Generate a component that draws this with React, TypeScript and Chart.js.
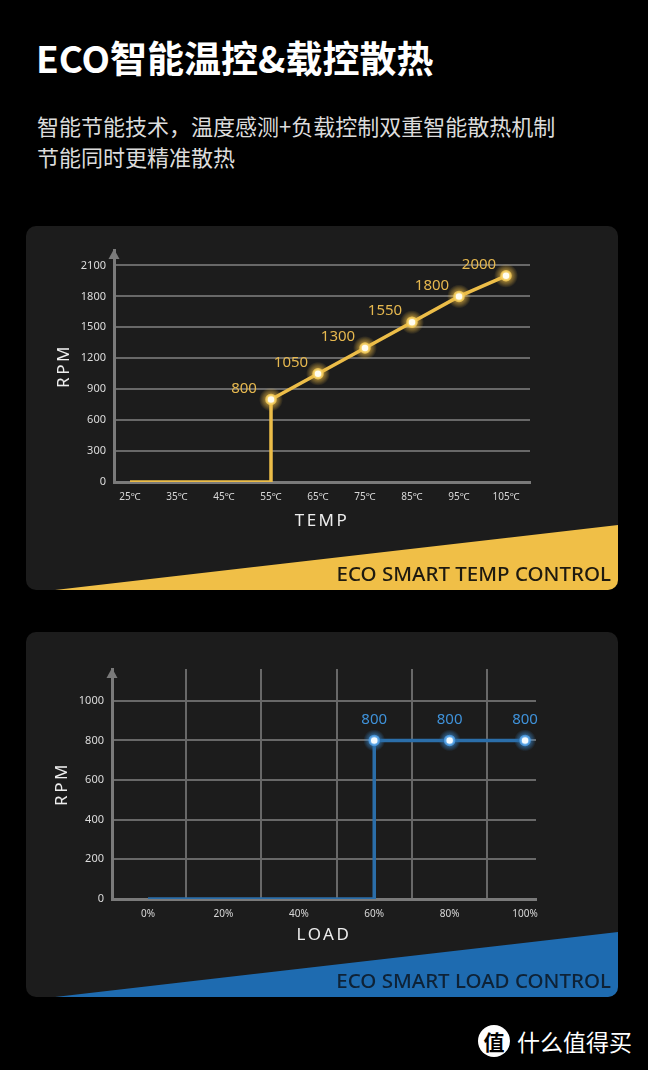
import React, { useEffect, useRef } from 'react';
import { Chart, registerables } from 'chart.js';
Chart.register(...registerables);

// ---- data ----
const tempTickValues = [25, 35, 45, 55, 65, 75, 85, 95, 105];
const tempX = [25, 55, 55, 65, 75, 85, 95, 105];
const tempRpm = [0, 0, 800, 1050, 1300, 1550, 1800, 2000];
const tempRpmTicks = [0, 300, 600, 900, 1200, 1500, 1800, 2100];

const loadTickValues = [0, 20, 40, 60, 80, 100];
const loadGridValues = [10, 30, 50, 70, 90];
const loadX = [0, 60, 60, 80, 100];
const loadRpm = [0, 0, 800, 800, 800];
const loadRpmTicks = [0, 200, 400, 600, 800, 1000];

const FONT = "'Noto Sans', 'Noto Sans CJK SC', sans-serif";
const CJK = "'Noto Sans CJK SC', 'Noto Sans', sans-serif";
const GRID = '#686868';
const AXIS = '#7a7a7a';

const marksPlugin = {
  id: 'marks',
  beforeDatasetsDraw(chart: any, _a: any, opts: any) {
    const ctx = chart.ctx;
    const ds = chart.data.datasets[0].data;
    chart.getDatasetMeta(0).data.forEach((pt: any, i: number) => {
      if (!(ds[i].y > 0)) return;
      const r = opts.glowRadius;
      const g = ctx.createRadialGradient(pt.x, pt.y, 0, pt.x, pt.y, r);
      g.addColorStop(0, `rgba(${opts.glow},0.9)`);
      g.addColorStop(0.5, `rgba(${opts.glow},0.5)`);
      g.addColorStop(1, `rgba(${opts.glow},0)`);
      ctx.save();
      ctx.fillStyle = g;
      ctx.beginPath();
      ctx.arc(pt.x, pt.y, r, 0, Math.PI * 2);
      ctx.fill();
      ctx.restore();
    });
  },
  afterDatasetsDraw(chart: any, _a: any, opts: any) {
    const ctx = chart.ctx;
    const ds = chart.data.datasets[0].data;
    ctx.save();
    ctx.font = `15px ${FONT}`;
    ctx.fillStyle = opts.labelColor;
    ctx.textAlign = 'center';
    ctx.textBaseline = 'middle';
    chart.getDatasetMeta(0).data.forEach((pt: any, i: number) => {
      if (!(ds[i].y > 0)) return;
      ctx.fillText(String(ds[i].y), pt.x + opts.dx, pt.y + opts.dy);
    });
    ctx.restore();
  },
};

const arrowPlugin = {
  id: 'yArrow',
  afterDraw(chart: any) {
    const ctx = chart.ctx;
    const x = chart.chartArea.left;
    const top = chart.chartArea.top - 1;
    ctx.save();
    ctx.fillStyle = AXIS;
    ctx.beginPath();
    ctx.moveTo(x, top);
    ctx.lineTo(x - 5.5, top + 10);
    ctx.lineTo(x + 5.5, top + 10);
    ctx.closePath();
    ctx.fill();
    ctx.restore();
  },
};

function spaceTitle(s: any) {
  if (s.__spaced) return;
  const orig = s.drawTitle.bind(s);
  s.drawTitle = () => {
    const c = s.ctx;
    c.save();
    c.letterSpacing = '2.5px';
    orig();
    c.restore();
  };
  s.__spaced = true;
}

function useChart(ref: any, build: () => any) {
  useEffect(() => {
    const chart = new Chart(ref.current, build());
    return () => chart.destroy();
  }, []);
}

function TempChart() {
  const ref = useRef<HTMLCanvasElement>(null);
  useChart(ref, () => ({
    type: 'line',
    data: {
      datasets: [
        {
          data: tempX.map((x, i) => ({ x, y: tempRpm[i] })),
          borderColor: '#ecbd48',
          borderWidth: 3.5,
          pointRadius: (c: any) => (c.raw && c.raw.y > 0 ? 4.5 : 0),
          pointBackgroundColor: '#fffdf0',
          pointBorderColor: 'rgba(245,205,90,0.85)',
          pointBorderWidth: 2.5,
          tension: 0,
        },
      ],
    },
    options: {
      animation: false,
      responsive: false,
      layout: { padding: { top: 24, right: 88, bottom: 0, left: 0 } },
      plugins: {
        legend: { display: false },
        tooltip: { enabled: false },
        marks: { glow: '255,200,70', glowRadius: 12, labelColor: '#e6b84f', dx: -27, dy: -11 },
      },
      scales: {
        x: {
          type: 'linear',
          min: 21.6,
          max: 110.1,
          afterBuildTicks: (s: any) => {
            s.ticks = tempTickValues.map((v) => ({ value: v }));
          },
          afterFit: (s: any) => {
            s.height = 108;
            spaceTitle(s);
          },
          grid: { display: false, drawTicks: false },
          border: { display: true, color: AXIS, width: 3 },
          ticks: {
            color: '#d8d8d8',
            font: { size: 10, family: FONT },
            padding: 9,
            autoSkip: false,
            maxRotation: 0,
            callback: (v: any) => v + '℃',
          },
          title: {
            display: true,
            text: 'TEMP',
            color: '#ededed',
            font: { size: 17, family: FONT },
            padding: { bottom: 59 },
          },
        },
        y: {
          min: 0,
          max: 2250,
          afterBuildTicks: (s: any) => {
            s.ticks = tempRpmTicks.map((v) => ({ value: v }));
          },
          afterFit: (s: any) => {
            s.width = 88;
            spaceTitle(s);
          },
          grid: { color: GRID, lineWidth: 2, drawTicks: false },
          border: { display: true, color: AXIS, width: 3 },
          ticks: {
            color: '#dcdcdc',
            font: { size: 11, family: FONT },
            padding: 8,
            callback: (v: any) => String(v),
          },
          title: {
            display: true,
            text: 'RPM',
            color: '#ededed',
            font: { size: 17, family: FONT },
            padding: { top: 28 },
          },
        },
      },
    },
    plugins: [marksPlugin, arrowPlugin],
  }));
  return <canvas ref={ref} width={592} height={364} style={{ position: 'absolute', left: 0, top: 0 }} />;
}

function LoadChart() {
  const ref = useRef<HTMLCanvasElement>(null);
  useChart(ref, () => ({
    type: 'line',
    data: {
      datasets: [
        {
          data: loadX.map((x, i) => ({ x, y: loadRpm[i] })),
          borderColor: '#2b6ea9',
          borderWidth: 3.5,
          pointRadius: (c: any) => (c.raw && c.raw.y > 0 ? 4.5 : 0),
          pointBackgroundColor: '#f4fbff',
          pointBorderColor: 'rgba(80,160,230,0.85)',
          pointBorderWidth: 2.5,
          tension: 0,
        },
      ],
    },
    options: {
      animation: false,
      responsive: false,
      layout: { padding: { top: 37, right: 82, bottom: 0, left: 0 } },
      plugins: {
        legend: { display: false },
        tooltip: { enabled: false },
        marks: { glow: '60,150,230', glowRadius: 11, labelColor: '#3f92da', dx: 0, dy: -21 },
      },
      scales: {
        x: {
          type: 'linear',
          min: -9.55,
          max: 102.9,
          afterBuildTicks: (s: any) => {
            s.ticks = [...loadTickValues, ...loadGridValues].sort((a, b) => a - b).map((v) => ({ value: v }));
          },
          afterFit: (s: any) => {
            s.height = 98;
            spaceTitle(s);
          },
          grid: {
            drawTicks: false,
            lineWidth: 2,
            color: (c: any) => (c.tick && loadGridValues.includes(c.tick.value) ? GRID : 'rgba(0,0,0,0)'),
          },
          border: { display: true, color: AXIS, width: 3 },
          ticks: {
            color: '#d8d8d8',
            font: { size: 10, family: FONT },
            padding: 9,
            autoSkip: false,
            maxRotation: 0,
            callback: (v: any) => (loadTickValues.includes(v) ? v + '%' : ''),
          },
          title: {
            display: true,
            text: 'LOAD',
            color: '#ededed',
            font: { size: 17, family: FONT },
            padding: { bottom: 52 },
          },
        },
        y: {
          min: 0,
          max: 1160,
          afterBuildTicks: (s: any) => {
            s.ticks = loadRpmTicks.map((v) => ({ value: v }));
          },
          afterFit: (s: any) => {
            s.width = 86;
            spaceTitle(s);
          },
          grid: { color: GRID, lineWidth: 2, drawTicks: false },
          border: { display: true, color: AXIS, width: 3 },
          ticks: {
            color: '#dcdcdc',
            font: { size: 11, family: FONT },
            padding: 8,
            callback: (v: any) => String(v),
          },
          title: {
            display: true,
            text: 'RPM',
            color: '#ededed',
            font: { size: 17, family: FONT },
            padding: { top: 26 },
          },
        },
      },
    },
    plugins: [marksPlugin, arrowPlugin],
  }));
  return <canvas ref={ref} width={592} height={365} style={{ position: 'absolute', left: 0, top: 0 }} />;
}

function Card(props: { top: number; height: number; band: string; text: string; textColor: string; children: any }) {
  const { top, height, band, text, textColor, children } = props;
  return (
    <div
      style={{
        position: 'absolute',
        left: 26,
        top,
        width: 592,
        height,
        background: '#1c1c1c',
        borderRadius: 10,
        overflow: 'hidden',
      }}
    >
      <div
        style={{
          position: 'absolute',
          left: 0,
          top: 0,
          width: 592,
          height,
          background: band,
          clipPath: `polygon(29px ${height}px, 592px ${height - 65}px, 592px ${height}px)`,
        }}
      />
      {children}
      <div
        style={{
          position: 'absolute',
          right: 7,
          top: height - 27,
          height: 20,
          lineHeight: '20px',
          fontFamily: FONT,
          fontSize: 20.5,
          fontWeight: 500,
          color: textColor,
          whiteSpace: 'nowrap',
        }}
      >
        {text}
      </div>
    </div>
  );
}

export default function App() {
  return (
    <div
      style={{
        position: 'absolute',
        left: 0,
        top: 0,
        width: 648,
        height: 1070,
        background: '#000',
        overflow: 'hidden',
        fontFamily: CJK,
      }}
    >
      <div
        style={{
          position: 'absolute',
          left: 36,
          top: 36,
          fontSize: 37,
          lineHeight: '42px',
          fontWeight: 700,
          color: '#fff',
          whiteSpace: 'nowrap',
        }}
      >
        ECO智能温控&amp;载控散热
      </div>
      <div
        style={{
          position: 'absolute',
          left: 37,
          top: 110,
          fontSize: 22,
          lineHeight: '31px',
          color: '#dcdcdc',
          whiteSpace: 'nowrap',
        }}
      >
        <div>智能节能技术，温度感测+负载控制双重智能散热机制</div>
        <div>节能同时更精准散热</div>
      </div>

      <Card top={226} height={364} band="#f0bf47" text="ECO SMART TEMP CONTROL" textColor="#1e1a10">
        <TempChart />
      </Card>

      <Card top={632} height={365} band="#1e6bb0" text="ECO SMART LOAD CONTROL" textColor="#0e2236">
        <LoadChart />
      </Card>

      <div
        style={{
          position: 'absolute',
          left: 478,
          top: 1025,
          width: 32,
          height: 32,
          borderRadius: 16,
          background: '#fff',
          color: '#000',
          fontSize: 21,
          lineHeight: '32px',
          textAlign: 'center',
          fontWeight: 700,
        }}
      >
        值
      </div>
      <div
        style={{
          position: 'absolute',
          left: 517,
          top: 1026,
          fontSize: 23,
          lineHeight: '30px',
          color: '#fff',
          whiteSpace: 'nowrap',
        }}
      >
        什么值得买
      </div>
    </div>
  );
}
